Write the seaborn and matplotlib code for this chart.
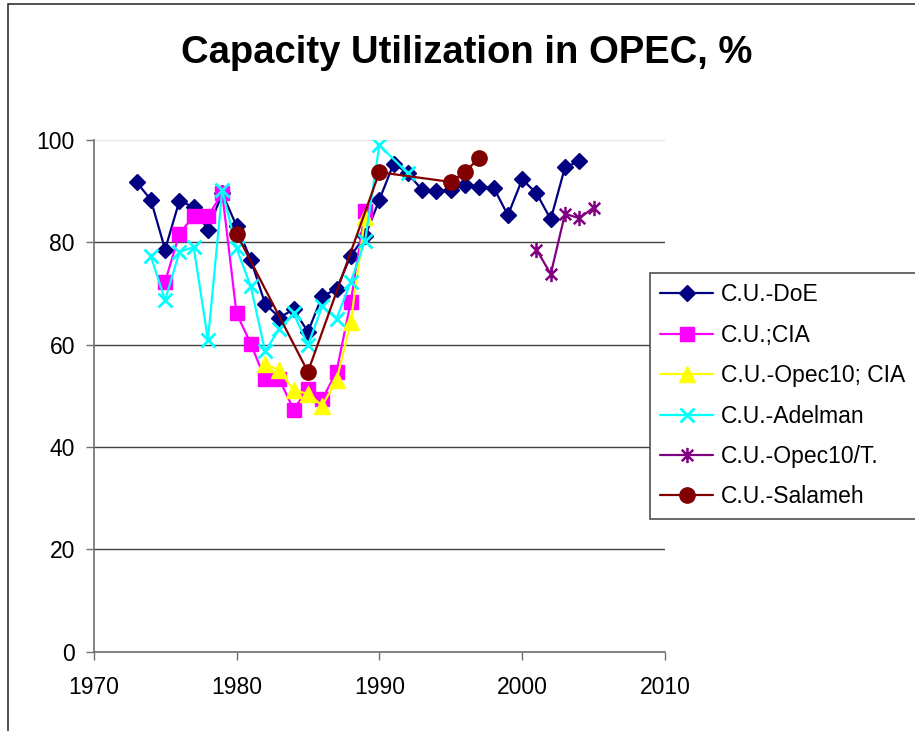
import matplotlib
matplotlib.use("Agg")
import matplotlib.pyplot as plt
import seaborn as sns
import pandas as pd
from matplotlib.patches import Rectangle
from matplotlib.path import Path

# ---- data ----
years_doe = list(range(1973, 2005))
doe = [91.8, 88.3, 78.6, 88.1, 86.9, 82.4, 89.6, 83.2, 76.6, 68.0, 65.3, 66.9,
       62.5, 69.5, 70.8, 77.4, 81.2, 88.3, 95.4, 93.5, 90.2, 90.0, 90.2, 91.2,
       90.9, 90.7, 85.3, 92.3, 89.6, 84.5, 94.7, 95.8]

years_cia = list(range(1975, 1990))
cia = [72.3, 81.7, 85.1, 85.1, 89.6, 66.1, 60.2, 53.2, 53.2, 47.3, 51.4, 49.3,
       54.7, 68.4, 86.1]

years_opec_cia = list(range(1982, 1990))
opec_cia = [56.3, 55.0, 51.1, 50.4, 48.1, 53.0, 64.4, 84.9]

years_adelman = [1974, 1975, 1976, 1977, 1978, 1979, 1980, 1981, 1982, 1983,
                 1984, 1985, 1986, 1987, 1988, 1989, 1990, 1992]
adelman = [77.3, 68.7, 78.1, 79.1, 60.9, 90.2, 78.8, 71.4, 58.7, 63.1, 66.1,
           59.9, 67.5, 65.1, 72.3, 80.3, 99.0, 93.5]

years_opec_t = [2001, 2002, 2003, 2004, 2005]
opec_t = [78.6, 73.8, 85.6, 84.7, 86.8]

years_salameh = [1980, 1985, 1990, 1995, 1996, 1997]
salameh = [81.7, 54.7, 93.7, 91.8, 93.8, 96.5]

labels = ["C.U.-DoE", "C.U.;CIA", "C.U.-Opec10; CIA", "C.U.-Adelman",
          "C.U.-Opec10/T.", "C.U.-Salameh"]
x_ticks = [1970, 1980, 1990, 2000, 2010]
y_ticks = [0, 20, 40, 60, 80, 100]
title = "Capacity Utilization in OPEC, %"

# ---- style ----
sns.set_style("white")
plt.rcParams["font.family"] = ["Liberation Sans", "DejaVu Sans"]
plt.rcParams["text.color"] = "black"
plt.rcParams["xtick.color"] = "black"
plt.rcParams["ytick.color"] = "black"

W, H = 915, 731
fig = plt.figure(figsize=(W / 100, H / 100), dpi=100)
ax = fig.add_axes([93.7 / W, 1 - 651.7 / H, (665 - 93.7) / W, (651.7 - 140) / H])

star = Path([(0, -1), (0, 1), (-0.75, -0.75), (0.75, 0.75), (-0.75, 0.75), (0.75, -0.75)],
            [Path.MOVETO, Path.LINETO, Path.MOVETO, Path.LINETO, Path.MOVETO, Path.LINETO])

series = [
    (years_doe, doe, "#000080", "D", 8, 1.0),
    (years_cia, cia, "#FF00FF", "s", 10.5, 1.0),
    (years_opec_cia, opec_cia, "#FFFF00", "^", 11, 1.0),
    (years_adelman, adelman, "#00FFFF", "x", 10, 2.0),
    (years_opec_t, opec_t, "#800080", star, 11, 1.8),
    (years_salameh, salameh, "#800000", "o", 11, 1.0),
]

for (xs, ys, col, mk, ms, mew), lab in zip(series, labels):
    df = pd.DataFrame({"year": xs, "value": ys})
    sns.lineplot(data=df, x="year", y="value", ax=ax, color=col, marker=mk,
                 markersize=ms, markeredgecolor=col, markerfacecolor=col,
                 markeredgewidth=mew, linewidth=1.6, label=lab, legend=False)

ax.set_xlim(x_ticks[0], x_ticks[-1])
ax.set_ylim(y_ticks[0], y_ticks[-1])
ax.set_xticks(x_ticks)
ax.set_yticks(y_ticks)
ax.set_xlabel("")
ax.set_ylabel("")

ax.yaxis.grid(True, color="#404040", linewidth=1.0)
ax.xaxis.grid(False)
gl = ax.yaxis.get_gridlines()
gl[-1].set_color("#e6e6e6")
ax.set_axisbelow(True)

for s in ["top", "right"]:
    ax.spines[s].set_visible(False)
for s in ["left", "bottom"]:
    ax.spines[s].set_color("#707070")
    ax.spines[s].set_linewidth(1.2)

ax.tick_params(axis="both", which="major", direction="out", length=5.5, width=1.0,
               color="#707070", labelsize=16.5, labelcolor="black", pad=8,
               bottom=True, left=True)
ax.tick_params(axis="x", pad=12)

fig.text(467 / W, 1 - 63 / H, title, ha="center", va="baseline",
         fontsize=27.5, fontweight="bold", color="black")

handles, labs = ax.get_legend_handles_labels()
leg = fig.legend(handles, labs, loc="upper left",
                 bbox_to_anchor=(650 / W, 1 - 273 / H), bbox_transform=fig.transFigure,
                 fontsize=16.5, frameon=True, fancybox=False, shadow=False,
                 handlelength=2.3, handletextpad=0.35, labelspacing=0.76,
                 borderpad=0.45, borderaxespad=0)
leg.get_frame().set_edgecolor("#505050")
leg.get_frame().set_linewidth(1.2)
leg.get_frame().set_alpha(1)
for t in leg.get_texts():
    t.set_color("black")

fig.patches.append(Rectangle((8 / W, -0.2), 1.5, (1 - 4 / H) + 0.2, transform=fig.transFigure,
                             fill=False, edgecolor="#222222", linewidth=1.1))

fig.savefig("out.png", dpi=100)
